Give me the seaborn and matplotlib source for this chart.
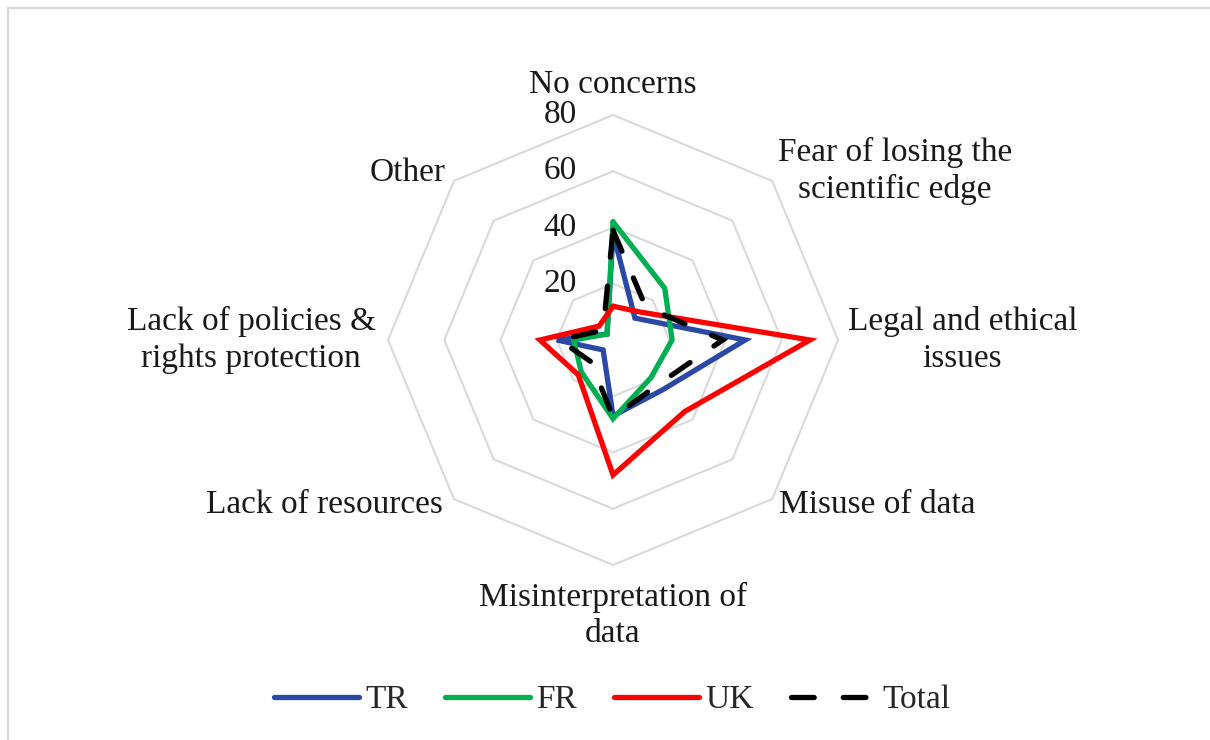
import numpy as np
import pandas as pd
import seaborn as sns
import matplotlib.pyplot as plt
from matplotlib.patches import Rectangle

# categories clockwise from the top
categories = ["No concerns", "Fear of losing the scientific edge", "Legal and ethical issues",
              "Misuse of data", "Misinterpretation of data", "Lack of resources",
              "Lack of policies & rights protection", "Other"]
cat_labels = ["No concerns", "Fear of losing the\nscientific edge", "Legal and ethical\nissues",
              "Misuse of data", "Misinterpretation of\ndata", "Lack of resources",
              "Lack of policies &\nrights protection", "Other"]
series_names = ["TR", "FR", "UK", "Total"]
tr = [38, 11, 47, 25, 27, 5, 20, 3]
fr = [42, 26, 21, 19, 28, 16, 14, 3]
uk = [12, 14, 70, 36, 48, 17.5, 26, 7]
total = [39, 16.5, 39, 22.5, 27.5, 11, 19, 5]
r_ticks = [20, 40, 60, 80]

colors = {"TR": "#2a48a6", "FR": "#00b050", "UK": "#ff0000", "Total": "#000000"}
dashes = {"TR": "", "FR": "", "UK": "", "Total": (4.3, 5.5)}

n = len(categories)
angles = np.linspace(0, 2 * np.pi, n, endpoint=False)
closed = np.append(angles, 2 * np.pi)

rows = []
for name, vals in zip(series_names, [tr, fr, uk, total]):
    for a, v in zip(closed, vals + vals[:1]):
        rows.append({"theta": a, "value": v, "series": name})
df = pd.DataFrame(rows)

sns.set_theme(style="white")
plt.rcParams["font.family"] = ["Liberation Serif", "DejaVu Serif"]
plt.rcParams["lines.solid_capstyle"] = "round"
plt.rcParams["lines.dash_capstyle"] = "round"
plt.rcParams["lines.solid_joinstyle"] = "miter"
plt.rcParams["lines.dash_joinstyle"] = "miter"
fs = 24

fig = plt.figure(figsize=(12.1, 7.4), dpi=100)
fig.patches.append(Rectangle((8 / 1210, -0.1), 1.1, 1.1 - 8 / 740, transform=fig.transFigure,
                             fill=False, ec="#d9d9d9", lw=1.6))
ax = fig.add_axes([0.3207, 0.2365, 0.3719, 0.6081], projection="polar")
ax.set_theta_zero_location("N")
ax.set_theta_direction(-1)
ax.patch.set_alpha(0)

# octagon gridlines
for lvl in r_ticks:
    ax.plot(closed, [lvl] * (n + 1), color="#d9d9d9", lw=1.5, zorder=0, clip_on=False)
    ax.annotate(str(lvl), xy=(0, lvl), xytext=(-26, 0), textcoords="offset points",
                ha="right", va="center", fontsize=fs, color="#1a1a1a")

sns.lineplot(data=df, x="theta", y="value", hue="series", style="series",
             hue_order=series_names, style_order=series_names, palette=colors,
             dashes=dashes, sort=False, estimator=None, linewidth=3.8, ax=ax)
for ln in ax.get_lines():
    ln.set_clip_on(False)

ax.set_ylim(0, 80)
ax.grid(False)
ax.spines["polar"].set_visible(False)
ax.set_xticks([])
ax.set_yticks([])
ax.set_xlabel("")
ax.set_ylabel("")

label_pos = [((0, 11), "center", "bottom"), ((4, 7), "left", "center"), ((7, 0), "left", "center"),
             ((5, -4), "left", "center"), ((0, -12), "center", "top"), ((-8, -4), "right", "center"),
             ((-9, 0), "right", "center"), ((-6, 6), "right", "center")]
for a, lab, (off, ha, va) in zip(angles, cat_labels, label_pos):
    ax.annotate(lab, xy=(a, 80), xytext=off, textcoords="offset points", ha=ha, va=va,
                multialignment="center", linespacing=1.25, fontsize=fs, color="#1a1a1a",
                annotation_clip=False)

sns.move_legend(ax, "center", bbox_to_anchor=(0.498, -0.3), ncol=4, title=None,
                frameon=False, fontsize=fs, handlelength=2.55, handletextpad=0.2,
                columnspacing=1.1)

fig.savefig("out.png", dpi=100)
